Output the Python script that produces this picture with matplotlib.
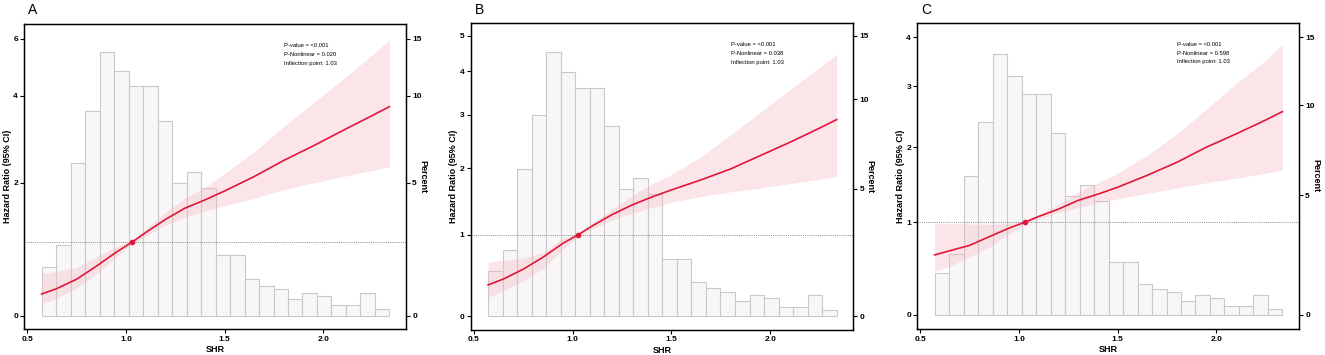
import matplotlib
matplotlib.use("Agg")
import matplotlib.pyplot as plt
import numpy as np

plt.rcParams['font.family'] = ['Liberation Sans', 'DejaVu Sans']

# histogram of SHR (same for all panels), percent per bin
bin_edges = np.linspace(0.573, 2.336, 25)
pct = [1.6, 2.39, 5.96, 8.96, 13.6, 11.95, 10.75, 10.75, 8.33, 4.98, 5.51, 4.75,
       2.04, 2.04, 1.17, 0.96, 0.84, 0.52, 0.73, 0.63, 0.32, 0.32, 0.73, 0.20]

# spline knots (SHR) for the hazard ratio curves
shr = [0.573, 0.65, 0.75, 0.85, 0.95, 1.03, 1.1, 1.2, 1.3, 1.4, 1.5, 1.65, 1.8, 1.95, 2.1, 2.25, 2.336]

hr_A = [0.274, 0.345, 0.47, 0.65, 0.85, 1.0, 1.15, 1.36, 1.55, 1.69, 1.85, 2.12, 2.44, 2.75, 3.1, 3.47, 3.70]
lo_A = [0.146, 0.22, 0.35, 0.54, 0.78, 0.97, 1.10, 1.26, 1.40, 1.50, 1.59, 1.72, 1.87, 2.0, 2.12, 2.24, 2.315]
hi_A = [0.55, 0.58, 0.63, 0.78, 0.93, 1.03, 1.20, 1.48, 1.72, 1.92, 2.18, 2.62, 3.2, 3.8, 4.5, 5.35, 5.94]

hr_B = [0.36, 0.43, 0.55, 0.70, 0.88, 1.0, 1.12, 1.28, 1.42, 1.54, 1.65, 1.81, 1.99, 2.22, 2.46, 2.73, 2.90]
lo_B = [0.215, 0.29, 0.41, 0.56, 0.80, 0.98, 1.08, 1.20, 1.30, 1.38, 1.46, 1.55, 1.62, 1.68, 1.75, 1.82, 1.866]
hi_B = [0.646, 0.66, 0.69, 0.76, 0.95, 1.02, 1.16, 1.36, 1.56, 1.74, 1.90, 2.20, 2.6, 3.05, 3.55, 4.1, 4.46]

hr_C = [0.623, 0.67, 0.73, 0.83, 0.93, 1.0, 1.07, 1.16, 1.27, 1.35, 1.44, 1.60, 1.78, 2.0, 2.2, 2.42, 2.56]
lo_C = [0.441, 0.50, 0.60, 0.71, 0.86, 0.98, 1.04, 1.12, 1.18, 1.24, 1.29, 1.36, 1.43, 1.50, 1.56, 1.63, 1.675]
hi_C = [0.99, 0.985, 0.98, 0.975, 0.985, 1.02, 1.09, 1.22, 1.38, 1.50, 1.63, 1.88, 2.2, 2.6, 3.05, 3.5, 3.85]

labels = ['A', 'B', 'C']
nonlinear = ['0.020', '0.038', '0.598']
hr_ticks = [[0, 2, 4, 6], [0, 1, 2, 3, 4, 5], [0, 1, 2, 3, 4]]
pct_ticks = [0, 5, 10, 15]
ylims = [(-0.165, 6.67), (-0.148, 5.44), (-0.138, 4.34)]
hr_per_pct = [0.4, 1 / 3, 4 / 15]

curves = [(hr_A, lo_A, hi_A), (hr_B, lo_B, hi_B), (hr_C, lo_C, hi_C)]

Q = 0.81


def make_scale(k):
    fwd = lambda y: 1 - np.power(Q, np.asarray(y) * k)
    inv = lambda u: np.log(np.clip(1 - np.asarray(u), 1e-12, None)) / np.log(Q) / k
    return fwd, inv


W, H = 1325, 355
fig = plt.figure(figsize=(W / 100, H / 100), dpi=100)
boxes = [(24.3, 406, 24.3, 329.3), (470.7, 853.3, 22.7, 330), (917.3, 1299, 22.7, 329.3)]

for i in range(3):
    l, r, t, b = boxes[i]
    ax = fig.add_axes([l / W, 1 - b / H, (r - l) / W, (b - t) / H])
    ax.set_yscale('function', functions=make_scale(1.0))
    k = hr_per_pct[i]

    widths = np.diff(bin_edges)
    ax.bar(bin_edges[:-1], np.array(pct) * k, width=widths, align='edge',
           color='#f8f6f7', edgecolor='#c9c9c9', linewidth=0.8, zorder=1)

    hr, lo, hi = curves[i]
    ax.fill_between(shr, lo, hi, color='#f4b7c1', alpha=0.35, linewidth=0, zorder=2)
    ax.axhline(1, color='#8a8a8a', linestyle=(0, (1, 1.2)), linewidth=0.7, zorder=3)
    ax.plot(shr, hr, color='#e0173a', linewidth=1.2, zorder=4)
    ax.plot([1.03], [1.0], 'o', color='#e0173a', markersize=3, zorder=5)

    ax.set_xlim(0.485, 2.42)
    ax.set_ylim(*ylims[i])
    ax.set_xticks([0.5, 1.0, 1.5, 2.0])
    ax.set_xticklabels(['0.5', '1.0', '1.5', '2.0'])
    ax.set_yticks(hr_ticks[i])
    ax.set_yticklabels([str(v) for v in hr_ticks[i]])
    ax.minorticks_off()
    ax.tick_params(length=3, width=0.8, labelsize=6, pad=1.5)
    for lab in ax.get_xticklabels() + ax.get_yticklabels():
        lab.set_fontweight('bold')
    for s in ax.spines.values():
        s.set_linewidth(1.0)
    ax.set_xlabel('SHR', fontsize=6.5, fontweight='bold', labelpad=2)
    ax.set_ylabel('Hazard Ratio (95% CI)', fontsize=6.5, fontweight='bold', labelpad=1)

    tr = ax.get_xaxis_transform()
    ax.text(1.80, 0.93, 'P-value = <0.001', transform=tr, fontsize=4.2, va='center')
    ax.text(1.80, 0.90, 'P-Nonlinear = ' + nonlinear[i], transform=tr, fontsize=4.2, va='center')
    ax.text(1.80, 0.872, 'Inflection point: 1.03', transform=tr, fontsize=4.2, va='center')

    ax2 = ax.twinx()
    ax2.set_yscale('function', functions=make_scale(k))
    ax2.set_ylim(ylims[i][0] / k, ylims[i][1] / k)
    ax2.set_yticks(pct_ticks)
    ax2.set_yticklabels([str(v) for v in pct_ticks])
    ax2.minorticks_off()
    ax2.tick_params(length=3, width=0.8, labelsize=6, pad=1.5)
    for lab in ax2.get_yticklabels():
        lab.set_fontweight('bold')
    ax2.set_ylabel('Percent', fontsize=6.5, fontweight='bold', rotation=270, labelpad=4)

    fig.text((l + 4) / W, 1 - 10 / H, labels[i], fontsize=10, va='center', ha='left')

fig.savefig('out.png', dpi=100)
